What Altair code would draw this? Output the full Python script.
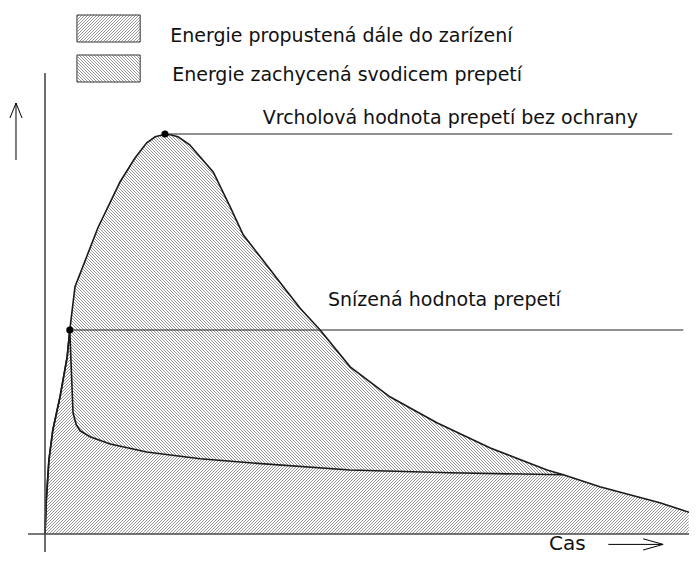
import numpy as np
import pandas as pd
import altair as alt

# ---------------- data (time t in arbitrary units 0..100, voltage u in % of peak) ----------------
big_t = [0, 0.2, 0.6, 1.2, 2.3, 3.4, 3.8, 4.6, 8.1, 11.5, 13.8, 15.6, 16.9, 18.1, 19.2, 20.4,
         22.2, 24.2, 25.8, 28.4, 30.4, 33.4, 36.0, 39.1, 42.2, 46.8, 52.9, 60.1, 68.3, 77.0,
         79.5, 85.1, 94.3, 100]
big_u = [0, 8.5, 18.5, 26, 34.3, 44.3, 51, 61.8, 76.5, 88, 94, 97.8, 99.3, 99.8, 99.8, 99.3,
         97.3, 93.5, 90.5, 81.8, 74.8, 68.5, 63, 56.5, 51, 41.8, 34.3, 27.8, 21.5, 16,
         14.8, 11.8, 7.8, 4.8]

low_t = [0, 0.2, 0.6, 1.2, 2.3, 3.4, 3.8, 4.1, 4.3, 4.8, 5.4, 6.9, 10.0, 15.6, 23.8, 31.4,
         46.8, 62.1, 79.5]
low_u = [0, 8.5, 18.5, 26, 34.3, 44.3, 51, 38.5, 30.3, 27.3, 25.8, 24.3, 22.5, 20.5, 18.8,
         17.8, 16, 15.3, 14.8]

peak_t, peak_u = 18.4, 100.0
reduced_t, reduced_u = 3.8, 51.0

ref_labels = ["Vrcholová hodnota prepetí bez ochrany", "Snízená hodnota prepetí"]
legend_labels = ["Energie propustená dále do zarízení", "Energie zachycená svodicem prepetí"]
x_title = "Cas"

FONT = "DejaVu Sans"

# ---------------- scales ----------------
W, H = 681, 547
X0 = -5.675
X1 = X0 + W / 6.52
Y0, Y1 = -5.25, 131.5
sx = W / (X1 - X0)
sy = H / (Y1 - Y0)
xscale = alt.Scale(domain=[X0, X1], nice=False, zero=False)
yscale = alt.Scale(domain=[Y0, Y1], nice=False, zero=False)


def X(f):
    return alt.X(f, type="quantitative", scale=xscale, axis=None)


def Y(f):
    return alt.Y(f, type="quantitative", scale=yscale, axis=None)


def to_data(px, py):
    return px / sx + X0, Y1 - py / sy


def hatch(inside, direction, t0, t1, u0, u1, spacing=3.0, step=0.25):
    """45-degree hatch lines in screen space, kept where inside(t, u) is True."""
    x0, x1 = (t0 - X0) * sx, (t1 - X0) * sx
    y0, y1 = (Y1 - u1) * sy, (Y1 - u0) * sy
    xs = np.arange(x0, x1 + step, step)
    if direction > 0:
        cmin, cmax = x0 + y0, x1 + y1
    else:
        cmin, cmax = x0 - y1, x1 - y0
    rows = []
    c = np.floor(cmin / spacing) * spacing
    while c <= cmax:
        ys = c - xs if direction > 0 else xs - c
        t, u = to_data(xs, ys)
        m = inside(t, u)
        if m.any():
            d = np.diff(np.concatenate([[0], m.astype(int), [0]]))
            st = np.where(d == 1)[0]
            en = np.where(d == -1)[0] - 1
            for s, e in zip(st, en):
                if e > s:
                    rows.append((t[s], u[s], t[e], u[e]))
        c += spacing
    return pd.DataFrame(rows, columns=["t", "u", "t2", "u2"])


bt, bu = np.array(big_t), np.array(big_u)
lt, lu = np.array(low_t), np.array(low_u)
join_t = lt[-1]
topA_t = np.concatenate([lt, bt[bt > join_t]])
topA_u = np.concatenate([lu, bu[bt > join_t]])


def in_A(t, u):
    return (t >= 0) & (t <= X1) & (u >= 0) & (u <= np.interp(t, topA_t, topA_u))


def in_B(t, u):
    return (t >= reduced_t) & (t <= join_t) & (u <= np.interp(t, bt, bu)) & (u >= np.interp(t, lt, lu))


box_t = (4.9, 14.6)
box_u = [(123.0, 129.75), (113.0, 119.75)]


def in_box(k):
    a, b = box_u[k]
    return lambda t, u: (t >= box_t[0]) & (t <= box_t[1]) & (u >= a) & (u <= b)


hA = hatch(in_A, +1, 0, X1, 0, 100)
hB = hatch(in_B, -1, 0, X1, 0, 100)
hL1 = hatch(in_box(0), +1, box_t[0], box_t[1], box_u[0][0], box_u[0][1])
hL2 = hatch(in_box(1), -1, box_t[0], box_t[1], box_u[1][0], box_u[1][1])
hatch_df = pd.concat([hA, hB, hL1, hL2], ignore_index=True)

hatch_layer = alt.Chart(hatch_df).mark_rule(stroke="#8a8a8a", strokeWidth=0.9).encode(
    x=X("t"), y=Y("u"), x2="t2", y2="u2")

big_df = pd.DataFrame({"t": big_t, "u": big_u, "o": range(len(big_t))})
low_df = pd.DataFrame({"t": low_t, "u": low_u, "o": range(len(low_t))})
big_line = alt.Chart(big_df).mark_line(color="#1a1a1a", strokeWidth=1.6).encode(
    x=X("t"), y=Y("u"), order="o:Q")
low_line = alt.Chart(low_df).mark_line(color="#1a1a1a", strokeWidth=1.6).encode(
    x=X("t"), y=Y("u"), order="o:Q")

# axes and reference lines
axis_df = pd.DataFrame({"t": [0, -2.6], "u": [115.25, 0], "t2": [0, 100], "u2": [-4.5, 0]})
ref_df = pd.DataFrame({"t": [peak_t, reduced_t], "u": [peak_u, reduced_u],
                       "t2": [96.2, 97.9], "u2": [peak_u, reduced_u]})
axis_rules = alt.Chart(axis_df).mark_rule(stroke="#4a4a4a", strokeWidth=1.6).encode(
    x=X("t"), y=Y("u"), x2="t2", y2="u2")
ref_rules = alt.Chart(ref_df).mark_rule(stroke="#222222", strokeWidth=1).encode(
    x=X("t"), y=Y("u"), x2="t2", y2="u2")

dots = alt.Chart(pd.DataFrame({"t": [peak_t, reduced_t], "u": [peak_u, reduced_u]})).mark_point(
    filled=True, color="black", size=50, opacity=1).encode(x=X("t"), y=Y("u"))

# legend boxes
box_df = pd.DataFrame({"t": [box_t[0]] * 2, "t2": [box_t[1]] * 2,
                       "u": [b[0] for b in box_u], "u2": [b[1] for b in box_u]})
boxes = alt.Chart(box_df).mark_rect(fill=None, stroke="#333333", strokeWidth=1).encode(
    x=X("t"), x2="t2", y=Y("u"), y2="u2")

# arrows (axis direction markers)
arrow_u = -2.6
arrow_df = pd.DataFrame({"t": [-4.45, 86.4], "u": [93.5, arrow_u], "t2": [-4.45, 94.8], "u2": [107.75, arrow_u]})
arrow_lines = alt.Chart(arrow_df).mark_rule(stroke="black", strokeWidth=1).encode(
    x=X("t"), y=Y("u"), x2="t2", y2="u2")
head_up = alt.Chart(arrow_df.iloc[[0]]).mark_point(
    shape="M -0.4 1 L 0 0 L 0.4 1", filled=False, stroke="black", strokeWidth=1, size=900, opacity=1
).encode(x=X("t2"), y=Y("u2"))
head_right = alt.Chart(arrow_df.iloc[[1]]).mark_point(
    shape="M -1 -0.28 L 0 0 L -1 0.28", filled=False, stroke="black", strokeWidth=1, size=1600, opacity=1
).encode(x=X("t2"), y=Y("u2"))

text_df = pd.DataFrame({
    "t": [33.4, 43.4, 19.2, 19.5],
    "u": [104.0, 58.5, 124.5, 114.75],
    "label": ref_labels + legend_labels,
})
texts = alt.Chart(text_df).mark_text(align="left", baseline="middle", font=FONT,
                                     fontSize=19, color="#111111").encode(
    x=X("t"), y=Y("u"), text="label:N")
cas = alt.Chart(pd.DataFrame({"t": [80.1], "u": [arrow_u], "label": [x_title]})).mark_text(
    align="center", baseline="middle", font=FONT, fontSize=20, color="#111111").encode(
    x=X("t"), y=Y("u"), text="label:N")

chart = alt.layer(hatch_layer, big_line, low_line, axis_rules, ref_rules, dots, boxes,
                  arrow_lines, head_up, head_right, texts, cas).properties(
    width=W, height=H, padding=0, autosize=alt.AutoSizeParams(type="none")
).configure(background="white", view=alt.ViewConfig(stroke=None))

chart.save("out.html", embed_options={"renderer": "svg", "actions": False})
